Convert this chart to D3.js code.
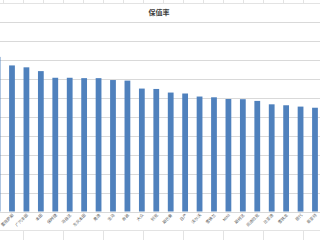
<!DOCTYPE html>
<html>
<head>
<meta charset="utf-8">
<script src="https://cdnjs.cloudflare.com/ajax/libs/d3/7.8.5/d3.min.js"></script>
<style>
body{margin:0;background:#fff;overflow:hidden;}
</style>
</head>
<body>
<script>
const width=320;
const height=240;

const brands=['丰田','雷克萨斯','广汽丰田','本田','保时捷','马自达','东风本田','奥迪','宝马','奔驰','大众','别克','斯巴鲁','日产','沃尔沃','雪佛兰','MINI','斯柯达','凯迪拉克','比亚迪','雪铁龙','现代','菲亚特'];
const rates=[0.815,0.770,0.760,0.740,0.705,0.705,0.703,0.703,0.693,0.690,0.648,0.646,0.627,0.622,0.606,0.602,0.593,0.592,0.583,0.565,0.560,0.553,0.547];
const gridTicks=[0,0.1,0.2,0.3,0.4,0.5,0.6,0.7,0.8,0.9,1];

const svg=d3.select('body').append('svg')
    .attr('width',width)
    .attr('height',height);

// spreadsheet cells peeking out above and below the chart
const sheet=svg.append('g').attr('stroke','#e3e3e3').attr('stroke-width',1);
d3.range(3,width,20).forEach(x=>{
    sheet.append('line').attr('x1',x+0.5).attr('x2',x+0.5).attr('y1',0).attr('y2',3);
});
d3.range(23,width,40).forEach(x=>{
    sheet.append('line').attr('x1',x+0.5).attr('x2',x+0.5).attr('y1',230).attr('y2',height);
});
sheet.append('line').attr('x1',0).attr('x2',width).attr('y1',230.5).attr('y2',230.5);
sheet.append('line').attr('x1',0).attr('x2',width).attr('y1',3.5).attr('y2',3.5);

const x=d3.scaleBand().domain(brands).range([-9.65,322.2]).paddingInner(0.6).paddingOuter(0.3);
const y=d3.scaleLinear().domain([0,1]).range([211.5,21.8]);

svg.append('g').selectAll('line')
    .data(gridTicks)
    .enter()
    .append('line')
    .attr('x1',0)
    .attr('x2',width)
    .attr('y1',d=>Math.round(y(d))+0.5)
    .attr('y2',d=>Math.round(y(d))+0.5)
    .attr('stroke','#d9d9d9')
    .attr('stroke-width',1);

svg.append('g').selectAll('rect')
    .data(rates)
    .enter()
    .append('rect')
    .attr('x',(d,i)=>x(brands[i]))
    .attr('width',x.bandwidth())
    .attr('y',d=>y(d))
    .attr('height',d=>y(0)-y(d))
    .attr('fill','#4f81bd');

const xAxis=d3.axisBottom(x).tickSize(0).tickPadding(0);
const gx=svg.append('g')
    .attr('transform',`translate(0,${y(0)})`)
    .call(xAxis);
gx.select('.domain').remove();
gx.selectAll('text')
    .attr('transform','translate(1,3) rotate(-45)')
    .attr('text-anchor','end')
    .attr('dy','0.35em')
    .attr('y',0)
    .style('font-family',"'Noto Sans CJK SC', sans-serif")
    .style('font-size','4px')
    .attr('fill','#595959');

svg.append('text').text('保值率')
    .attr('x',159)
    .attr('y',15)
    .attr('text-anchor','middle')
    .style('font-family',"'Noto Sans CJK SC', sans-serif")
    .style('font-size','7px')
    .style('font-weight','600')
    .attr('fill','#404040');
</script>
</body>
</html>
